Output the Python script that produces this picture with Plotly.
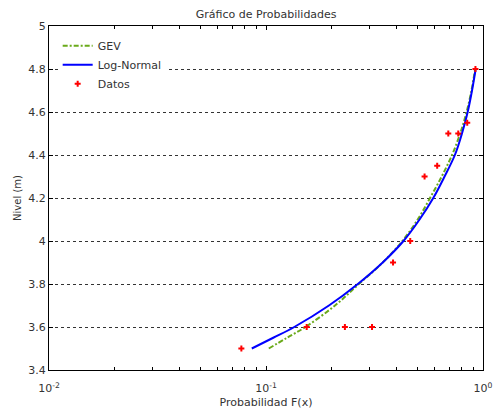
import plotly.graph_objects as go

# Observed data (plotting positions vs level)
datos_F = [0.077, 0.154, 0.231, 0.308, 0.385, 0.462, 0.538, 0.615, 0.692, 0.769, 0.846, 0.923]
datos_nivel = [3.5, 3.6, 3.6, 3.6, 3.9, 4.0, 4.3, 4.35, 4.5, 4.5, 4.55, 4.8]

# Fitted curves
curva_nivel = [3.5, 3.55, 3.6, 3.7, 3.8, 3.9, 4.0, 4.1, 4.2, 4.3, 4.4, 4.5, 4.6, 4.7, 4.8]
gev_F = [0.103, 0.125, 0.152, 0.208, 0.268, 0.345, 0.425, 0.50, 0.57, 0.645, 0.72, 0.785, 0.84, 0.885, 0.92]
lognormal_F = [0.086, 0.108, 0.135, 0.195, 0.265, 0.345, 0.43, 0.51, 0.59, 0.665, 0.742, 0.80, 0.85, 0.89, 0.925]

x_major = [0.01, 0.1, 1]
x_major_text = ["10<sup>-2</sup>", "10<sup>-1</sup>", "10<sup>0</sup>"]
x_minor = [m * d for d in (0.01, 0.1) for m in range(2, 10)]
y_ticks = [3.4, 3.6, 3.8, 4.0, 4.2, 4.4, 4.6, 4.8, 5.0]
y_ticktext = ["3.4", "3.6", "3.8", "4", "4.2", "4.4", "4.6", "4.8", "5"]

font_family = "DejaVu Sans"
txt_color = "#333333"

fig = go.Figure()
fig.add_trace(go.Scatter(x=gev_F, y=curva_nivel, mode="lines", name="GEV",
                         line=dict(color="#6aaa1a", width=2, dash="5px,2px,2px,2px", shape="spline")))
fig.add_trace(go.Scatter(x=lognormal_F, y=curva_nivel, mode="lines", name="Log-Normal",
                         line=dict(color="#0000ff", width=2, shape="spline")))
fig.add_trace(go.Scatter(x=datos_F, y=datos_nivel, mode="markers", name="Datos",
                         marker=dict(color="#ff0000", symbol="cross", size=5)))

fig.update_layout(
    width=493, height=414,
    margin=dict(l=49, r=10, t=26, b=44),
    paper_bgcolor="white", plot_bgcolor="white",
    font=dict(family=font_family, size=10, color=txt_color),
    title=dict(text="Gráfico de Probabilidades", x=0.54, xanchor="center",
               y=1 - 14 / 414, yanchor="middle", font=dict(size=11, color=txt_color)),
    showlegend=True,
    legend=dict(x=0.02, y=0.985, xanchor="left", yanchor="top", bgcolor="white",
                font=dict(size=11, color=txt_color), tracegroupgap=0),
)
fig.update_xaxes(
    type="log", range=[-2, 0], automargin=False,
    tickvals=x_major, ticktext=x_major_text,
    ticks="inside", ticklen=4, tickcolor="black",
    minor=dict(tickvals=x_minor, ticks="inside", ticklen=3, tickcolor="black", showgrid=False),
    showline=True, linecolor="black", linewidth=1, mirror="ticks",
    showgrid=False, zeroline=False, ticklabelstandoff=8,
    title=dict(text="Probabilidad F(x)", standoff=4, font=dict(size=11, color=txt_color)),
    tickfont=dict(size=11, color=txt_color),
)
fig.update_yaxes(
    range=[3.4, 5.0], automargin=False,
    tickvals=y_ticks, ticktext=y_ticktext,
    ticks="inside", ticklen=4, tickcolor="black",
    showline=True, linecolor="black", linewidth=1, mirror="ticks",
    showgrid=True, gridcolor="#333333", gridwidth=1, griddash="3px,3px",
    zeroline=False,
    title=dict(text="Nivel (m)", standoff=4, font=dict(size=10, color=txt_color)),
    tickfont=dict(size=11, color=txt_color),
)

fig.write_html("out.html")
